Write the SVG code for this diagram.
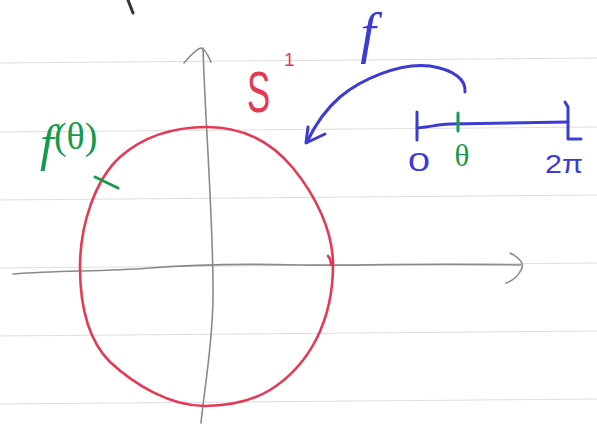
<svg xmlns="http://www.w3.org/2000/svg" width="597" height="428" viewBox="0 0 597 428">
  <style>
    .rule { stroke: #dedede; stroke-width: 1; fill: none; }
    .pencil { stroke: #8a8a8a; stroke-width: 1.6; fill: none; stroke-linecap: round; stroke-linejoin: round; }
    .red { stroke: #e43a55; stroke-width: 2.6; fill: none; stroke-linecap: round; stroke-linejoin: round; }
    .blue { stroke: #3c3cd2; stroke-width: 3; fill: none; stroke-linecap: round; stroke-linejoin: round; }
    .green { stroke: #179a4c; stroke-width: 3; fill: none; stroke-linecap: round; }
    .serif { font-family: "Liberation Serif", "DejaVu Serif", serif; }
    .sans { font-family: "Liberation Sans", "DejaVu Sans", sans-serif; }
  </style>
  <rect x="0" y="0" width="597" height="428" fill="#ffffff"/>

  <g id="ruled-paper">
    <line class="rule" x1="0" y1="63" x2="597" y2="58"/>
    <line class="rule" x1="0" y1="132" x2="597" y2="127"/>
    <line class="rule" x1="0" y1="200" x2="597" y2="195"/>
    <line class="rule" x1="0" y1="268" x2="597" y2="263"/>
    <line class="rule" x1="0" y1="336" x2="597" y2="331"/>
    <line class="rule" x1="0" y1="404" x2="597" y2="399"/>
  </g>

  <path id="top-mark" d="M128,0 L133,13" stroke="#333333" stroke-width="3" stroke-linecap="round" fill="none"/>

  <g id="axes">
    <path class="pencil" d="M13,274 C60,270 100,272 150,268 S260,264 300,265 S420,263 521,265"/>
    <path class="pencil" d="M510,253 C520,258 525,264 521,270 C518,276 512,281 506,283"/>
    <path class="pencil" d="M203,48 C205,120 214,230 213,300 C212,350 204,390 201,423"/>
    <path class="pencil" d="M184,63 C190,56 196,49 201,48 C205,49 208,55 211,62"/>
  </g>

  <g id="circle-S1">
    <path class="red" d="M207,127 C240,127 270,140 293,168 C315,195 333,230 333,265 C333,320 310,365 270,390 C250,402 228,406 205,406 C170,406 135,385 110,362 C88,340 80,305 80,267 C80,225 95,180 120,157 C145,135 175,127 207,127 Z"/>
    <path class="red" d="M328,256 C330,258 331,261 331,265"/>
    <text class="sans" transform="translate(247,112) scale(0.6,1)" font-size="58" fill="#e43a55">S</text>
    <text class="sans" x="284" y="66" font-size="19" fill="#e43a55">1</text>
  </g>

  <g id="point-f-theta">
    <path class="green" d="M95,177 L118,188"/>
    <text class="serif" fill="#179a4c"><tspan x="40" y="160" font-style="italic" font-size="50">f</tspan><tspan y="149" font-size="38">(θ)</tspan></text>
  </g>

  <g id="interval">
    <path class="blue" d="M417,112 L417,140"/>
    <path class="blue" d="M417,128 C430,127 440,124 450,124 L568,122"/>
    <path class="blue" d="M565,102 L568,107 L568,139 L581,139"/>
    <path class="green" d="M458,113 L458,131"/>
    <text class="sans" x="408" y="171" font-size="25" fill="#3c3cd2" textLength="22" lengthAdjust="spacingAndGlyphs">0</text>
    <text class="serif" x="462" y="166" font-size="31" fill="#179a4c" text-anchor="middle">θ</text>
    <text class="sans" x="545" y="173" font-size="26" fill="#3c3cd2" textLength="38" lengthAdjust="spacingAndGlyphs">2π</text>
  </g>

  <g id="connectors">
    <path class="blue" d="M465,92 C466,80 455,70 430,66 C400,62 360,80 340,97 C325,110 315,125 307,142"/>
    <path class="blue" d="M308,127 L306,143 L325,134"/>
    <text class="serif" x="368" y="52" font-size="56" font-style="italic" fill="#3c3cd2" text-anchor="middle">f</text>
  </g>
</svg>
